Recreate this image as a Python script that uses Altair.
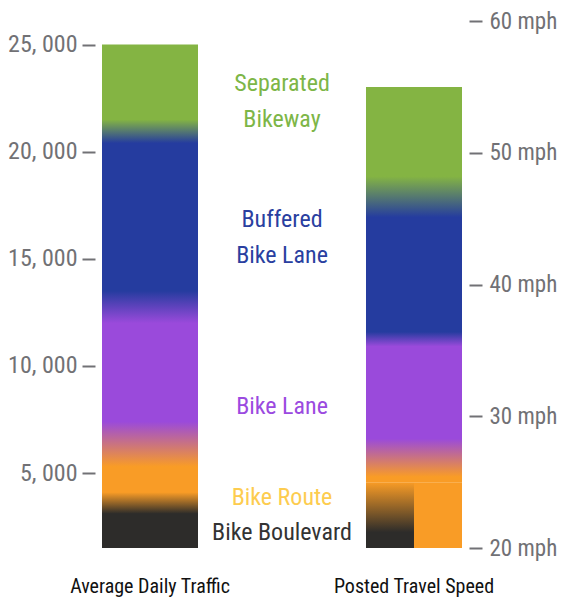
import altair as alt
import pandas as pd

# ---- data -------------------------------------------------------------
columns = ["Average Daily Traffic", "Facility", "Posted Travel Speed"]

facilities = ["Bike Boulevard", "Bike Route", "Bike Lane", "Buffered Bike Lane", "Separated Bikeway"]
label_text = ["Bike Boulevard", "Bike Route", "Bike Lane", "Buffered\nBike Lane", "Separated\nBikeway"]
bar_colors = ["#2d2c2a", "#f99c26", "#9a4adb", "#253c9f", "#84b443"]
text_colors = ["#333333", "#fdcc4f", "#9b4ae0", "#2a3fa0", "#7db647"]

# traffic (vehicles/day): range of the bar and solid band of each facility
traffic_range = [1500, 25000]
traffic_solid_lo = [1500, 4100, 7400, 13500, 21500]
traffic_solid_hi = [3100, 5300, 12000, 20400, 25000]
# traffic level at which each label (its first line) sits
label_traffic = [2200, 3850, 8100, 16800, 23150]

# posted speed (mph)
speed_range = [20, 55]
speed_split = 25  # Bike Boulevard / Bike Route share 20-25 mph side by side
speed_solid_lo = [20, 25, 28.3, 36.4, 48.2]
speed_solid_hi = [21.2, 25.4, 35.3, 45.1, 55]

traffic_ticks = [5000, 10000, 15000, 20000, 25000]
speed_ticks = [20, 30, 40, 50, 60]

# ---- helpers ----------------------------------------------------------
FONT = "'Roboto Condensed', 'Noto Sans Condensed', 'Liberation Sans Narrow', 'DejaVu Sans Condensed', sans-serif"
GRAY = "#717175"


def gradient(lo, hi, stops):
    stops = sorted(stops, key=lambda t: -t[0])
    out = []
    for v, c in stops:
        off = (hi - v) / (hi - lo)
        off = min(1.0, max(0.0, off))
        out.append(alt.GradientStop(offset=off, color=c))
    return alt.LinearGradient(gradient="linear", x1=0, x2=0, y1=0, y2=1, stops=out)


traffic_stops = []
for lo, hi, c in zip(traffic_solid_lo, traffic_solid_hi, bar_colors):
    traffic_stops += [(lo, c), (hi, c)]

main_stops = []
for lo, hi, c in zip(speed_solid_lo[1:], speed_solid_hi[1:], bar_colors[1:]):
    main_stops += [(lo, c), (hi, c)]

boulevard_stops = [(speed_split, bar_colors[1]), (speed_solid_hi[0], bar_colors[0]), (speed_solid_lo[0], bar_colors[0])]

x_enc = alt.X(
    "col:N",
    sort=columns,
    scale=alt.Scale(domain=columns, paddingInner=0.2727, paddingOuter=0),
    axis=alt.Axis(
        title=None, domain=False, ticks=False, tickSize=0, labelAngle=0, labelLimit=400,
        labelFont=FONT, labelFontSize=20, labelColor="#111111", labelPadding=28,
        labelExpr="datum.value == 'Facility' ? '' : datum.value",
    ),
)

traffic_scale = alt.Scale(domain=[1500, 26100], nice=False, zero=False)
speed_scale = alt.Scale(domain=[20, 60], nice=False, zero=False)

axis_common = dict(
    title=None, domain=False, grid=False, tickSize=13, tickWidth=2, tickColor=GRAY,
    labelFont=FONT, labelColor=GRAY, offset=7, labelLimit=200,
)

# ---- layers -----------------------------------------------------------
traffic_df = pd.DataFrame({"col": [columns[0]], "lo": [traffic_range[0]], "hi": [traffic_range[1]]})
traffic_bar = alt.Chart(traffic_df).mark_bar(
    color=gradient(traffic_range[0], traffic_range[1], traffic_stops)
).encode(
    x=x_enc,
    y=alt.Y("hi:Q", scale=traffic_scale, axis=alt.Axis(
        orient="left", values=traffic_ticks, labelPadding=5, labelFontSize=24,
        labelExpr="replace(format(datum.value, ','), ',', ', ')", **axis_common)),
    y2="lo:Q",
)

label_df = pd.DataFrame({"col": [columns[1]] * 5, "name": facilities, "label": label_text, "pos": label_traffic})
labels = alt.Chart(label_df).mark_text(
    font=FONT, fontSize=24, lineBreak="\n", lineHeight=36, align="center", baseline="middle"
).encode(
    x=x_enc,
    y=alt.Y("pos:Q", scale=traffic_scale, axis=None),
    text="label:N",
    color=alt.Color("name:N", scale=alt.Scale(domain=facilities, range=text_colors), legend=None),
)

speed_df = pd.DataFrame({"col": [columns[2]], "lo": [speed_split], "hi": [speed_range[1]]})
speed_bar = alt.Chart(speed_df).mark_bar(
    color=gradient(speed_split, speed_range[1], main_stops)
).encode(
    x=x_enc,
    y=alt.Y("hi:Q", scale=speed_scale, axis=alt.Axis(
        orient="right", values=speed_ticks, labelPadding=7, labelFontSize=23,
        labelExpr="datum.value + ' mph'", **axis_common)),
    y2="lo:Q",
)

sub_offset = alt.XOffset("part:N", scale=alt.Scale(domain=["Bike Boulevard", "Bike Route"], paddingInner=0, paddingOuter=0))

blvd_df = pd.DataFrame({"col": [columns[2]], "part": ["Bike Boulevard"], "lo": [speed_range[0]], "hi": [speed_split]})
blvd_bar = alt.Chart(blvd_df).mark_bar(
    color=gradient(speed_range[0], speed_split, boulevard_stops)
).encode(
    x=x_enc, xOffset=sub_offset,
    y=alt.Y("hi:Q", scale=speed_scale, axis=None), y2="lo:Q",
)

route_df = pd.DataFrame({"col": [columns[2]], "part": ["Bike Route"], "lo": [speed_range[0]], "hi": [speed_split]})
route_bar = alt.Chart(route_df).mark_bar(color=bar_colors[1]).encode(
    x=x_enc, xOffset=sub_offset,
    y=alt.Y("hi:Q", scale=speed_scale, axis=None), y2="lo:Q",
)

chart = alt.layer(traffic_bar, labels, speed_bar, blvd_bar, route_bar).resolve_scale(
    y="independent"
).properties(
    width=360, height=527,
    autosize=alt.AutoSizeParams(type="none"),
    padding={"left": 94, "top": 13, "right": 96, "bottom": 49},
).configure_view(stroke=None)

chart.save("out.html", embed_options={"renderer": "svg", "actions": False})
